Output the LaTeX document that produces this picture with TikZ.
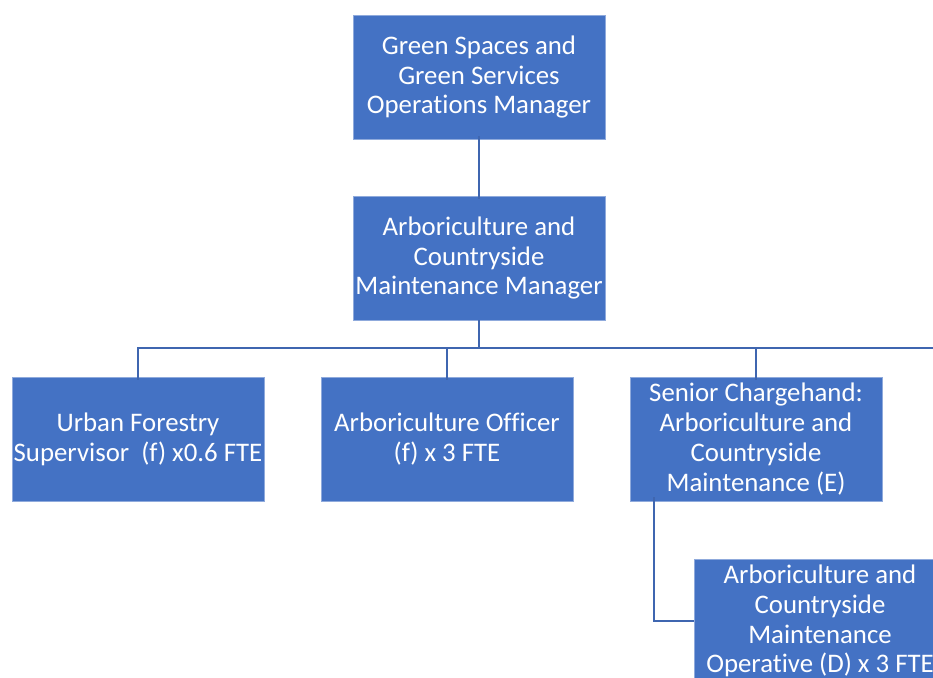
\documentclass[tikz,border=0pt]{standalone}
\usepackage{fontspec}
\setmainfont[Ligatures=NoCommon]{Carlito}
\definecolor{boxblue}{HTML}{4472C4}
\definecolor{lineblue}{HTML}{3F66B0}
\begin{document}
\begin{tikzpicture}[x=1pt,y=-1pt,
  orgbox/.style={draw=boxblue!60!white, line width=0.6pt, fill=boxblue, text=white,
    minimum width=252pt, minimum height=124pt, inner sep=0pt, align=center,
    font=\fontsize{26.8}{29.8}\selectfont},
  conn/.style={draw=lineblue, line width=2.6pt}]
\useasboundingbox (0,0) rectangle (933,677);
\node[orgbox] (top) at (479,77) {Green Spaces and\\Green Services\\Operations Manager};
\node[orgbox] (mid) at (479,258) {Arboriculture and\\Countryside\\Maintenance Manager};
\node[orgbox] (ufs) at (138,439) {Urban Forestry\\Supervisor~~(f) x0.6 FTE};
\node[orgbox] (ao) at (447,439) {Arboriculture Officer\\(f) x 3 FTE};
\node[orgbox] (sc) at (756,439) {Senior Chargehand:\\Arboriculture and\\Countryside\\Maintenance (E)};
\node[orgbox] (op) at (820,621) {Arboriculture and\\Countryside\\Maintenance\\Operative (D) x 3 FTE};
\coordinate (bus) at (479,348);
\coordinate (busend) at (940,348);
\draw[conn] ([yshift=3pt]top.south) -- ([yshift=-3pt]mid.north);
\draw[conn] (mid.south) -- (bus);
\draw[conn] ([yshift=-3pt]ufs.north) |- (busend);
\draw[conn] ([yshift=-3pt]ao.north) -- (ao.north |- bus);
\draw[conn] ([yshift=-3pt]sc.north) -- (sc.north |- bus);
\draw[conn] ([xshift=-102pt,yshift=4pt]sc.south) |- (op.west);
\end{tikzpicture}
\end{document}
